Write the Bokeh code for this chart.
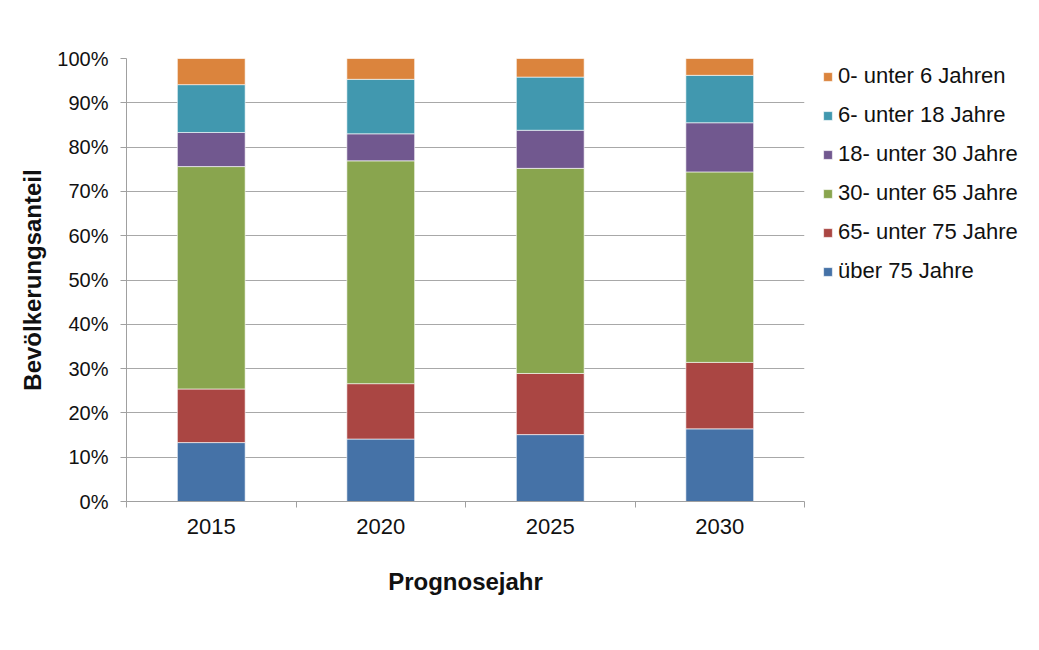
from bokeh.plotting import figure
from bokeh.models import (ColumnDataSource, Range1d, FixedTicker, NumeralTickFormatter,
                          Legend, LegendItem)
from bokeh.embed import file_html
from bokeh.resources import INLINE

years = ["2015", "2020", "2025", "2030"]
groups = ["über 75 Jahre", "65- unter 75 Jahre", "30- unter 65 Jahre",
          "18- unter 30 Jahre", "6- unter 18 Jahre", "0- unter 6 Jahren"]
ueber75 = [13.3, 14.1, 15.1, 16.4]
j65_75 = [12.1, 12.5, 13.8, 15.0]
j30_65 = [50.2, 50.3, 46.3, 43.0]
j18_30 = [7.7, 6.1, 8.6, 11.1]
j6_18 = [10.8, 12.3, 12.0, 10.7]
j0_6 = [5.9, 4.7, 4.2, 3.8]
colors = ["#4572A7", "#AA4643", "#89A54E", "#71588F", "#4198AF", "#DB843D"]

series = [ueber75, j65_75, j30_65, j18_30, j6_18, j0_6]
keys = ["s%d" % i for i in range(len(series))]
xs = [i + 0.5 for i in range(len(years))]
data = {"x": xs}
for k, s in zip(keys, series):
    data[k] = [v / 100.0 for v in s]
source = ColumnDataSource(data)

FONT = "Liberation Sans"

p = figure(frame_width=678, frame_height=443, output_backend="svg", toolbar_location=None,
           x_range=Range1d(0, len(years)), y_range=Range1d(0, 1),
           min_border_left=126, min_border_right=10, min_border_top=58,
           min_border_bottom=133)
p.outline_line_color = None
p.background_fill_color = "white"
p.border_fill_color = "white"

renderers = p.vbar_stack(keys, x="x", width=0.4, source=source, color=colors,
                         line_color="white", line_width=0.6)

# axes
p.xaxis.ticker = FixedTicker(ticks=xs, minor_ticks=list(range(len(years) + 1)))
p.xaxis.major_label_overrides = {x: y for x, y in zip(xs, years)}
p.xaxis.major_tick_out = 0
p.xaxis.major_tick_in = 0
p.xaxis.minor_tick_out = 6
p.xaxis.minor_tick_in = 0
p.xaxis.minor_tick_line_color = "#a0a0a0"
p.xaxis.axis_line_color = "#a0a0a0"
p.xaxis.major_label_text_font = FONT
p.xaxis.major_label_text_font_size = "22px"
p.xaxis.major_label_text_color = "#111111"
p.xaxis.major_label_standoff = 11
p.xaxis.axis_label = "Prognosejahr"
p.xaxis.axis_label_text_font = FONT
p.xaxis.axis_label_text_font_style = "bold"
p.xaxis.axis_label_text_font_size = "24px"
p.xaxis.axis_label_text_color = "#111111"
p.xaxis.axis_label_standoff = 31

p.yaxis.ticker = FixedTicker(ticks=[i / 10 for i in range(11)])
p.yaxis.formatter = NumeralTickFormatter(format="0%")
p.yaxis.minor_tick_line_color = None
p.yaxis.major_tick_out = 6
p.yaxis.major_tick_in = 0
p.yaxis.major_tick_line_color = "#a0a0a0"
p.yaxis.axis_line_color = "#a0a0a0"
p.yaxis.major_label_text_font = FONT
p.yaxis.major_label_text_font_size = "20px"
p.yaxis.major_label_text_color = "#111111"
p.yaxis.major_label_standoff = 12
p.yaxis.axis_label = "Bevölkerungsanteil"
p.yaxis.axis_label_text_font = FONT
p.yaxis.axis_label_text_font_style = "bold"
p.yaxis.axis_label_text_font_size = "24px"
p.yaxis.axis_label_text_color = "#111111"
p.yaxis.axis_label_standoff = 8

p.xgrid.grid_line_color = None
p.ygrid.grid_line_color = "#a8a8a8"
p.ygrid.grid_line_width = 1

items = [LegendItem(label=g, renderers=[r]) for g, r in zip(groups, renderers)]
items.reverse()
legend = Legend(items=items, location=(18, 217), orientation="vertical",
                glyph_width=11, glyph_height=11, label_standoff=5, spacing=13,
                padding=0, margin=0, border_line_alpha=0, background_fill_alpha=0,
                label_text_font=FONT, label_text_font_size="22px",
                label_text_color="#111111")
p.add_layout(legend, "right")

open("out.html", "w").write(file_html(p, INLINE))
